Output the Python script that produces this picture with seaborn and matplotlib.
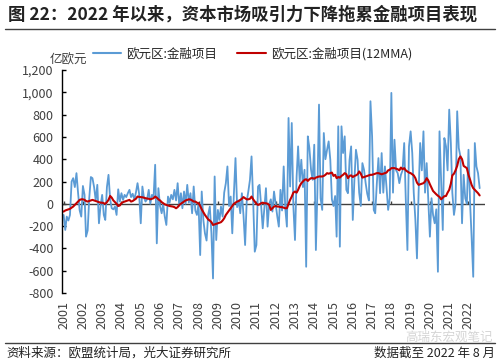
import numpy as np
import pandas as pd
import matplotlib
matplotlib.use('Agg')
import matplotlib.pyplot as plt
import matplotlib.ticker as mticker
import seaborn as sns

# 欧元区金融项目, monthly, 2001-01 .. 2022-08 (亿欧元)
financial = [
    -100, -235, -115, -150, -100, 200, 230, 150, 275, 100, -60, -115,   # 2001
    160, 80, -295, -240, 50, 240, 230, 150, 30, 170, -175, -20,         # 2002
    80, -100, -145, 150, 260, 40, -40, -50, -25, -100, 130, 20,         # 2003
    95, 35, 80, 60, 95, 125, 60, 90, 40, 100, 185, 90,                  # 2004
    -175, 155, 60, 20, 40, 125, 0, 80, 60, 350, -355, 140,              # 2005
    -20, -85, 0, -115, -190, 65, 10, 80, 40, 125, 30, 185,              # 2006
    -20, 95, -40, 110, 0, 170, 10, 95, -85, 155, -60, -100,             # 2007
    0, -460, 110, -145, -265, -330, -100, -25, -265, -670, 245, -325,   # 2008
    -55, -145, -25, -115, 100, 185, 335, -20, 65, -265, 95, 410,        # 2009
    -30, 30, -85, 95, -100, -370, 20, 110, 215, 425, 20, -430,          # 2010
    -370, 155, 170, -20, -220, -40, 140, -205, 0, 40, -70, 110,         # 2011
    0, -115, -205, 125, -60, 335, -40, -205, 770, 155, 725, -20,        # 2012
    -325, 245, 515, 200, 395, 150, 305, -565, 605, 500, 305, 215,       # 2013
    530, -415, 100, 890, 50, -55, 635, 400, 485, 560, 395, 40,          # 2014
    -20, 70, -295, 695, -385, 695, 455, 605, 125, 95, 395, 515,         # 2015
    -145, 215, 485, 395, 100, -20, 365, 305, 185, 90, 30, 920,          # 2016
    605, -55, -85, 185, 410, 95, 455, 100, 335, 150, -55, 50,           # 2017
    995, 100, 575, 300, 275, 185, 260, 300, 545, 40, -415, 515,         # 2018
    650, 455, 100, -145, -490, 100, 545, 300, 650, 100, 365, 50,        # 2019
    -295, 50, -100, -175, -50, -610, 650, 200, -235, 590, 515, 300,     # 2020
    845, 545, 100, -100, 0, 830, 500, 425, -175, 260, 50, 0,            # 2021
    485, 0, -295, -655, 545, 335, 275, 140,                             # 2022
]

# 12-month moving average as drawn in the chart
financial_12mma = [
    -70, -60, -55, -50, -45, -35, -25, -10, 5, 20, 35, 40,
    40, 35, 25, 20, 25, 30, 35, 30, 25, 20, 15, 10,
    10, 5, 0, 15, 35, 70, 55, 30, 15, 0, -20, -15,
    5, 15, 20, 25, 30, 35, 20, 25, 35, 45, 65, 62,
    60, 58, 55, 50, 48, 45, 40, 45, 50, 65, 55, 40,
    30, 15, 5, -5, -10, -15, -20, -22, -25, -30, -40, -30,
    -10, 0, 10, 20, 30, 35, 40, 38, 30, 20, 20, 10,
    5, -20, -50, -75, -100, -120, -140, -150, -165, -190, -185, -180,
    -175, -170, -165, -150, -130, -100, -80, -60, -40, -20, 0, 10,
    20, 25, 35, 45, 60, 50, 40, 40, 45, 65, 40, 20,
    0, -10, -5, 5, 10, 5, 5, 0, -10, -55, -40, -25,
    -20, -25, -25, -30, -30, -35, -40, -40, 0, 35, 65, 100,
    110, 100, 125, 160, 185, 200, 215, 220, 205, 220, 230, 230,
    225, 235, 240, 245, 245, 245, 250, 260, 275, 270, 275, 280,
    250, 260, 230, 240, 235, 250, 260, 275, 265, 230, 250, 255,
    240, 250, 255, 265, 290, 270, 235, 240, 245, 250, 255, 260,
    260, 265, 270, 275, 275, 270, 265, 270, 275, 280, 300, 305,
    320, 320, 320, 315, 310, 300, 325, 310, 320, 300, 290, 280,
    275, 265, 255, 230, 190, 170, 175, 180, 185, 200, 230, 210,
    175, 145, 115, 100, 85, 72, 62, 40, 55, 68, 70, 100,
    125, 180, 255, 270, 300, 340, 400, 425, 400, 340, 330, 320,
    260, 215, 170, 140, 125, 110, 95, 75,
]

year_labels = [str(y) for y in range(2001, 2023)]
series_names = ['欧元区:金融项目', '欧元区:金融项目(12MMA)']
colors = ['#5B9BD5', '#C00000']

months = pd.date_range('2001-01-01', periods=len(financial), freq='MS')
df = pd.concat([
    pd.DataFrame({'date': months, 'value': financial, 'series': series_names[0]}),
    pd.DataFrame({'date': months, 'value': financial_12mma, 'series': series_names[1]}),
])

sns.set_style('white')
plt.rcParams['font.family'] = ['Noto Sans CJK SC', 'DejaVu Sans']
plt.rcParams['axes.unicode_minus'] = False

fig = plt.figure(figsize=(5, 3.63), dpi=100)
ax = fig.add_axes([0.124, 0.193, 0.846, 0.614])

sns.lineplot(data=df, x='date', y='value', hue='series', hue_order=series_names,
             palette=dict(zip(series_names, colors)), ax=ax)
ax.lines[0].set_linewidth(1.3)
ax.lines[1].set_linewidth(1.5)

# zero line with year ticks
ax.axhline(0, color='#404040', lw=1, zorder=1)
year_ticks = pd.to_datetime([f'{y}-01-01' for y in year_labels])
ax.vlines(year_ticks, 0, 22, color='#404040', lw=1, zorder=1)

ax.set_ylim(-800, 1200)
ax.set_yticks(range(-800, 1201, 200))
ax.yaxis.set_major_formatter(mticker.FuncFormatter(lambda v, p: f'{int(v):,}'))
ax.set_xlim(pd.Timestamp('2000-12-01'), pd.Timestamp('2022-11-10'))
ax.set_xticks(year_ticks)
ax.set_xticklabels(year_labels, rotation=90)
ax.set_xlabel('')
ax.set_ylabel('')

for s in ['top', 'right', 'bottom']:
    ax.spines[s].set_visible(False)
ax.spines['left'].set_color('black')
ax.spines['left'].set_linewidth(1)
ax.tick_params(axis='y', direction='in', length=3, width=1, color='black',
               labelsize=9, labelcolor='#404040', pad=6, left=True)
ax.tick_params(axis='x', length=0, labelsize=9, labelcolor='#404040', pad=6)

handles, labels = ax.get_legend_handles_labels()
ax.get_legend().remove()
fig.legend(handles, labels, loc='center left', bbox_to_anchor=(0.185, 1 - 54 / 363),
           ncol=2, frameon=False, fontsize=9, handlelength=2.3, handletextpad=0.4,
           columnspacing=1.6, borderaxespad=0, borderpad=0)
fig.text(0.10, 1 - 60 / 363, '亿欧元', fontsize=9, color='#404040', va='center')

# title and footer
fig.text(0.016, 1 - 15 / 363, '图 22：2022 年以来，资本市场吸引力下降拖累金融项目表现',
         fontsize=12.5, fontweight='bold', color='#222222', va='center')
fig.add_artist(plt.Line2D([0.01, 0.99], [1 - 29 / 363] * 2, color='#404040', lw=1))
fig.add_artist(plt.Line2D([0.01, 0.99], [1 - 343 / 363] * 2, color='#404040', lw=1))
fig.text(0.012, 1 - 353 / 363, '资料来源：欧盟统计局，光大证券研究所', fontsize=9,
         color='#222222', va='center')
fig.text(0.99, 1 - 353 / 363, '数据截至 2022 年 8 月', fontsize=9,
         color='#222222', va='center', ha='right')
fig.text(0.985, 1 - 337 / 363, '高瑞东宏观笔记', fontsize=9, color='#888888',
         alpha=0.35, va='center', ha='right')

fig.savefig('out.png', dpi=100)
